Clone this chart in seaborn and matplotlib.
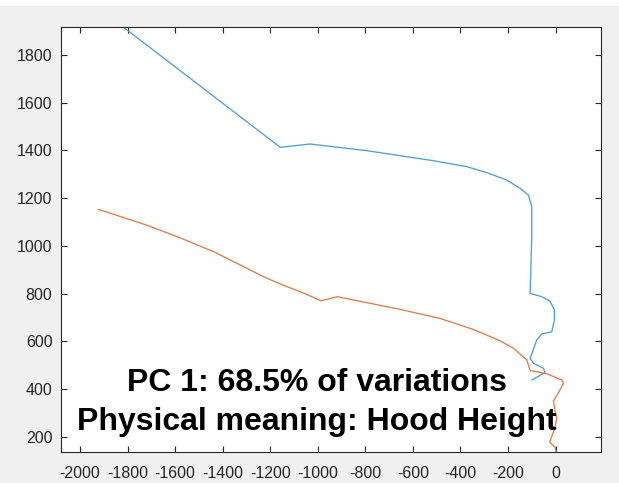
import matplotlib
matplotlib.use("Agg")
import matplotlib.pyplot as plt
from matplotlib.patches import Rectangle
import seaborn as sns
import pandas as pd

# Mode shapes for principal component 1 (two contour curves)
upper_x = [-1817, -1158, -1033, -794, -514, -373, -289, -205, -149, -114, -100,
           -100, -107, -58, -23, -5, -5, -16, -58, -79, -107, -93, -51, -44, -100]
upper_y = [1916, 1413, 1427, 1399, 1357, 1332, 1307, 1276, 1241, 1213, 1164,
           1039, 801, 787, 768, 731, 689, 640, 631, 606, 529, 508, 487, 469, 438]

lower_x = [-1923, -1719, -1580, -1439, -1330, -1229, -1150, -1074, -986, -918, -654,
           -486, -346, -233, -177, -121, -107, -37, 26, 33, 12, -9, -2, 5, -6, -25, -2, 3]
lower_y = [1153, 1087, 1034, 976, 922, 871, 837, 808, 770, 787, 734,
           696, 650, 602, 571, 522, 478, 464, 438, 424, 385, 350, 308, 277, 228, 178, 155, 135]

x_ticks = list(range(-2000, 1, 200))
y_ticks = list(range(200, 1801, 200))
x_limits = (-2081, 189)
y_limits = (135, 1916)

title_lines = ["PC 1: 68.5% of variations", "Physical meaning: Hood Height"]

sns.set_style("white")
plt.rcParams["font.family"] = ["Liberation Sans", "DejaVu Sans"]

fig = plt.figure(figsize=(6.19, 4.83), dpi=100, facecolor="#f0f0f0")
fig.add_artist(Rectangle((0, 1 - 6 / 483), 1, 6 / 483, transform=fig.transFigure,
                         facecolor="white", edgecolor="none", zorder=0))
ax = fig.add_axes([60.8 / 619, 1 - 452.3 / 483, 539.7 / 619, 425.0 / 483])
ax.set_facecolor("white")

upper = pd.DataFrame({"x": upper_x, "y": upper_y})
lower = pd.DataFrame({"x": lower_x, "y": lower_y})
sns.lineplot(data=upper, x="x", y="y", sort=False, estimator=None,
             color="#4f9fd6", linewidth=0.95, ax=ax)
sns.lineplot(data=lower, x="x", y="y", sort=False, estimator=None,
             color="#e67a4c", linewidth=0.95, ax=ax)

ax.set_xlim(*x_limits)
ax.set_ylim(*y_limits)
ax.set_xticks(x_ticks)
ax.set_yticks(y_ticks)
ax.set_xticklabels([str(v) for v in x_ticks])
ax.set_yticklabels([str(v) for v in y_ticks])
ax.set_xlabel("")
ax.set_ylabel("")

for side in ["top", "bottom", "left", "right"]:
    ax.spines[side].set_visible(True)
    ax.spines[side].set_color("#262626")
    ax.spines[side].set_linewidth(0.8)

ax.tick_params(axis="both", which="major", direction="in", length=4.5, width=0.8,
               color="#262626", labelcolor="#262626", labelsize=11.5,
               top=True, right=True, bottom=True, left=True)
ax.tick_params(axis="x", pad=10)
ax.tick_params(axis="y", pad=6)

ax.text(-1003, 343, "\n".join(title_lines), ha="center", va="center",
        fontsize=23, fontweight="bold", color="black", linespacing=1.38)

fig.savefig("out.png", dpi=100, facecolor=fig.get_facecolor())
